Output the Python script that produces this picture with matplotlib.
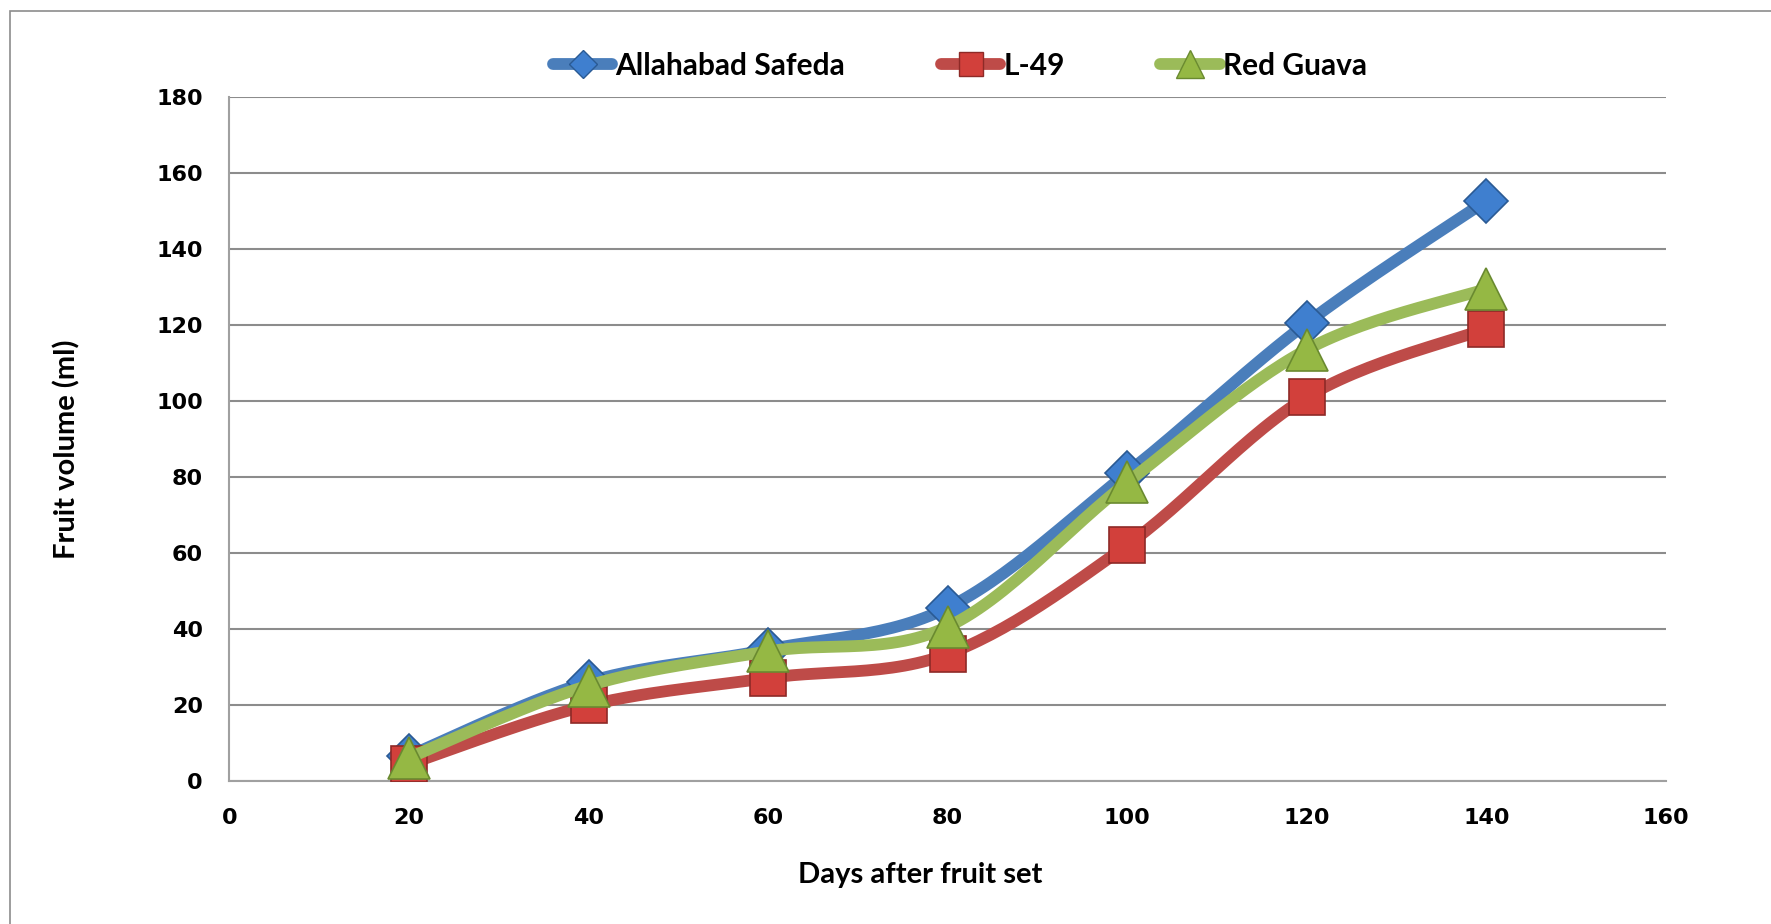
import numpy as np
import matplotlib
matplotlib.use("Agg")
from matplotlib import pyplot as plt
from matplotlib.patches import Rectangle

# fruit volume readings (ml) at days after fruit set
days = [20, 40, 60, 80, 100, 120, 140]
safeda = [6.5, 26, 34.5, 45.5, 81, 120.5, 152.7]
l49 = [4.3, 19.8, 27, 33.3, 62, 101, 119]
red_guava = [6, 25, 34, 40.5, 78.5, 113.5, 129.5]

names = ["Allahabad Safeda", "L-49", "Red Guava"]
line_cols = ["#4A7EBB", "#BE4B48", "#9BBB59"]
face_cols = ["#3F7FCF", "#D2403B", "#95B844"]
edge_cols = ["#2A5A94", "#8E2A27", "#6A8A30"]
markers = ["D", "s", "^"]
msizes = [22, 26, 30]


def smooth(x, y, n=30):
    # cubic bezier segments, control points from neighbouring points
    x = np.asarray(x, float)
    y = np.asarray(y, float)
    P = np.column_stack([x, y])
    out = []
    for i in range(len(P) - 1):
        p0 = P[i - 1] if i > 0 else P[i]
        p1, p2 = P[i], P[i + 1]
        p3 = P[i + 2] if i + 2 < len(P) else P[i + 1]
        c1 = p1 + (p2 - p0) / 6
        c2 = p2 - (p3 - p1) / 6
        t = np.linspace(0, 1, n)[:, None]
        seg = (1 - t) ** 3 * p1 + 3 * (1 - t) ** 2 * t * c1 + 3 * (1 - t) * t ** 2 * c2 + t ** 3 * p2
        out.append(seg if i == 0 else seg[1:])
    s = np.vstack(out)
    return s[:, 0], s[:, 1]


fig = plt.figure(figsize=(17.71, 9.24), dpi=100)
fig.patches.append(Rectangle((0.0057, -0.1), 1.2, 1.088, transform=fig.transFigure,
                             fill=False, edgecolor="#8C8C8C", linewidth=1.2))

ax = fig.add_axes([0.1295, 0.1553, 0.8112, 0.7396])

handles = []
for k, vals in enumerate([safeda, l49, red_guava]):
    sx, sy = smooth(days, vals)
    ax.plot(sx, sy, color=line_cols[k], linewidth=8.5, solid_capstyle="round", zorder=3 + k)
    ax.plot(days, vals, linestyle="none", marker=markers[k], markersize=msizes[k],
            markerfacecolor=face_cols[k], markeredgecolor=edge_cols[k], markeredgewidth=1.2,
            zorder=3 + k)
    h, = ax.plot([], [], color=line_cols[k], linewidth=8.5, solid_capstyle="round",
                 marker=markers[k], markersize=msizes[k] * 0.65,
                 markerfacecolor=face_cols[k], markeredgecolor=edge_cols[k], label=names[k])
    handles.append(h)

ax.set_xlim(0, 160)
ax.set_ylim(0, 180)
ax.set_xticks(np.arange(0, 161, 20))
ax.set_yticks(np.arange(0, 181, 20))
ax.yaxis.grid(True, color="#8C8C8C", linewidth=1.5)
ax.set_axisbelow(True)
for s in ["top", "right"]:
    ax.spines[s].set_visible(False)
for s in ["left", "bottom"]:
    ax.spines[s].set_color("#A0A0A0")
    ax.spines[s].set_linewidth(1.5)
ax.tick_params(length=0)
ax.tick_params(axis="x", pad=20)
ax.tick_params(axis="y", pad=19)
for lab in ax.get_xticklabels() + ax.get_yticklabels():
    lab.set_fontfamily("DejaVu Sans")
    lab.set_fontweight("bold")
    lab.set_fontsize(16)

lfont = {"family": "Lato", "weight": "bold", "size": 21}
ax.set_xlabel("Days after fruit set", fontdict=lfont)
ax.set_ylabel("Fruit volume (ml)", fontdict=lfont)
ax.xaxis.set_label_coords(0.481, -0.119)
ax.yaxis.set_label_coords(-0.1035, 0.485)

fig.legend(handles=handles, loc="center", bbox_to_anchor=(0.542, 0.929), ncol=3,
           frameon=False, handlelength=2.0, handletextpad=0.1, columnspacing=3.2,
           prop={"family": "Lato", "weight": "bold", "size": 21.5})

fig.savefig("out.png", dpi=100)
